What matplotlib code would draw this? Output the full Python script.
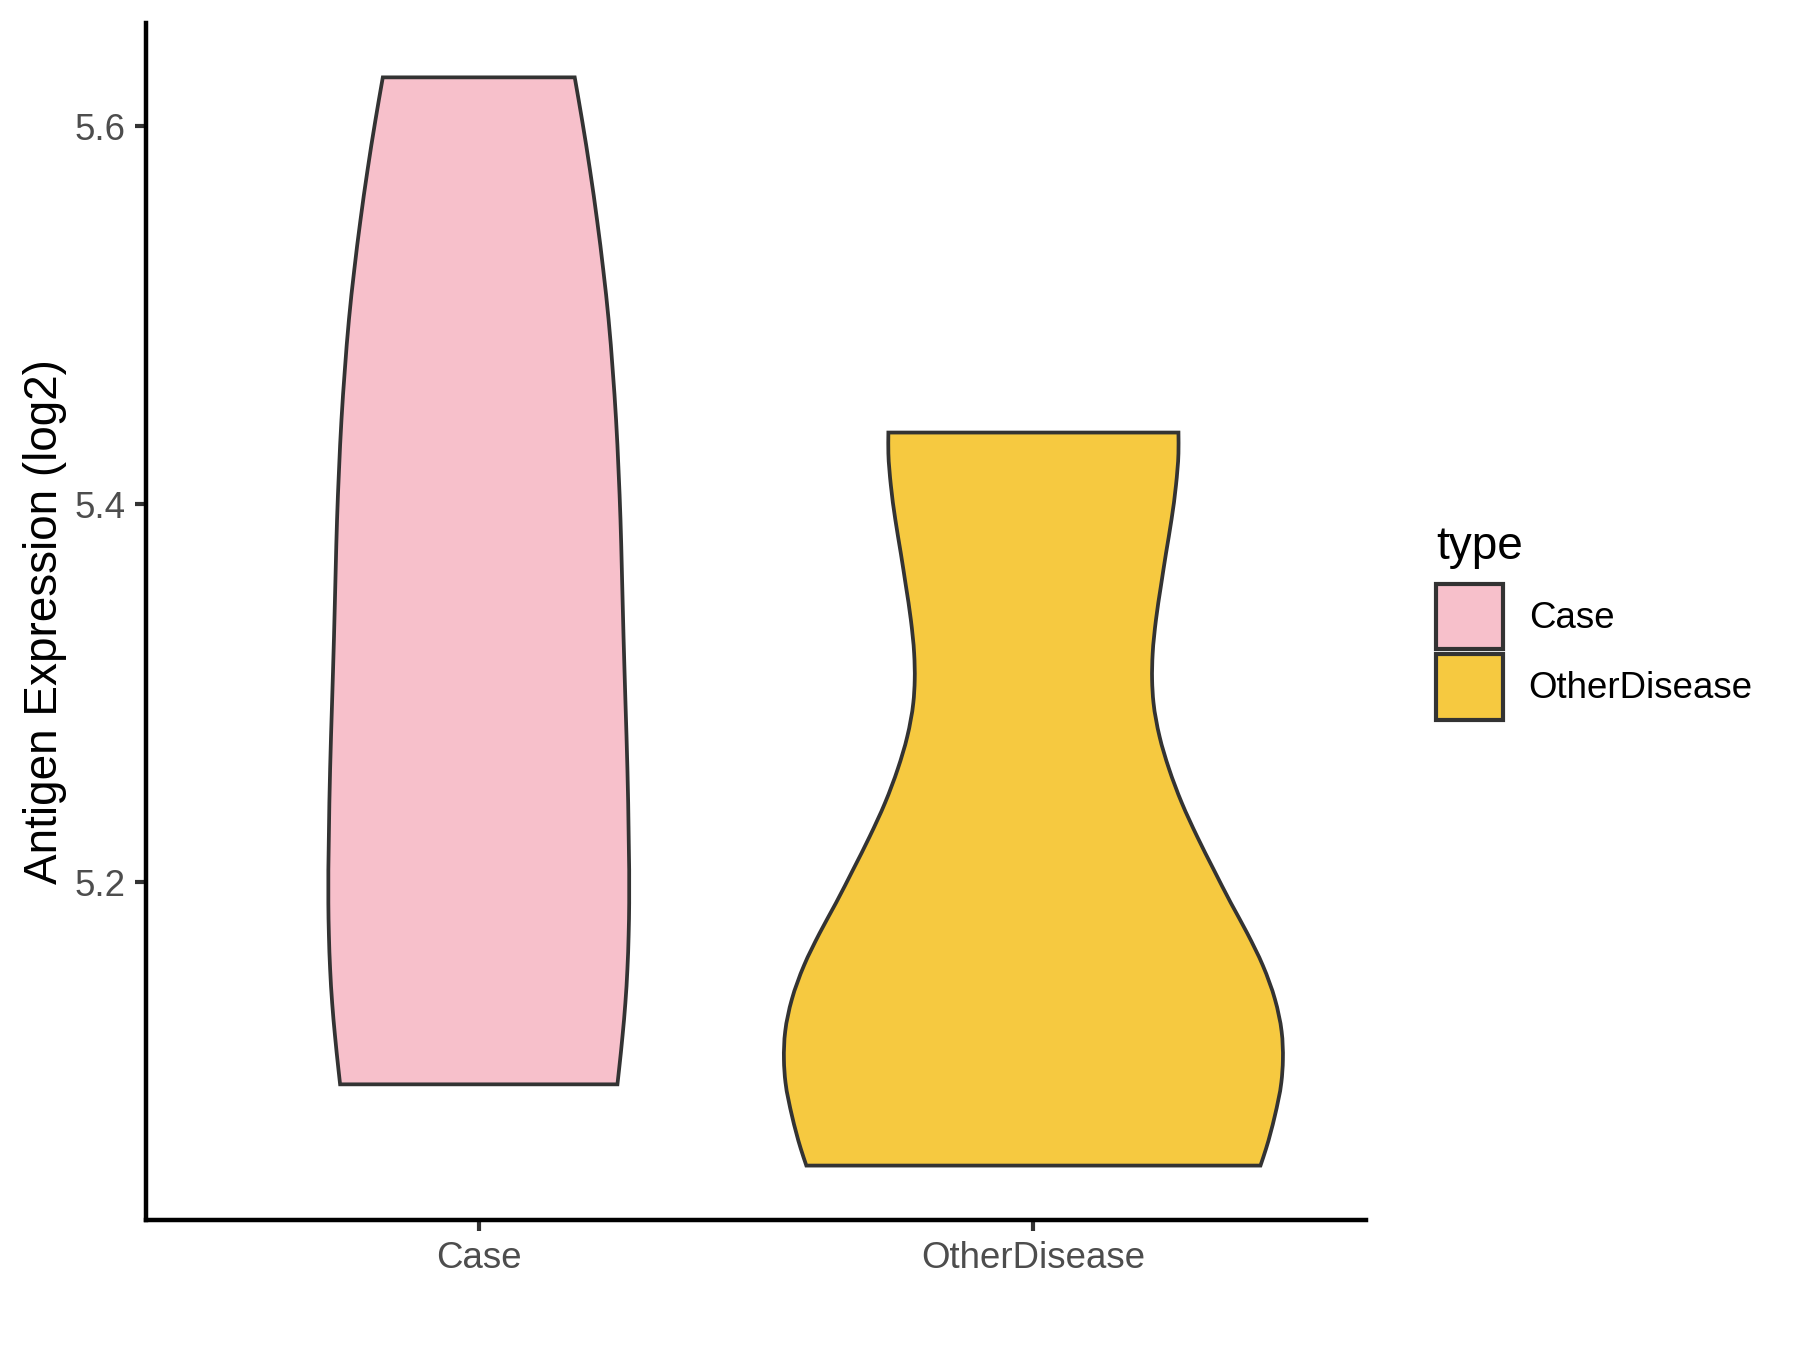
import numpy as np
import matplotlib
matplotlib.use("Agg")
import matplotlib.pyplot as plt
from matplotlib.path import Path
from matplotlib.patches import PathPatch, Patch

plt.rcParams['font.family'] = ['Liberation Sans', 'DejaVu Sans']

# ---- data (violin half-width profiles, x units) ----
categories = ["Case", "OtherDisease"]
colors = ["#F7C0CB", "#F6C940"]

case_y = [5.626, 5.603, 5.577, 5.550, 5.524, 5.498, 5.471, 5.445, 5.418, 5.392,
          5.365, 5.330, 5.295, 5.260, 5.224, 5.189, 5.172, 5.154, 5.136, 5.119,
          5.101, 5.093]
case_hw = [0.173, 0.1865, 0.2005, 0.2135, 0.2245, 0.234, 0.2415, 0.2475, 0.252, 0.2555,
           0.258, 0.261, 0.2645, 0.268, 0.2703, 0.2712, 0.2702, 0.2680, 0.2643, 0.2593,
           0.2530, 0.2500]

other_y = [5.438, 5.427, 5.410, 5.392, 5.374, 5.357, 5.339, 5.321, 5.307, 5.295,
           5.277, 5.260, 5.242, 5.224, 5.207, 5.189, 5.173, 5.156, 5.138, 5.121,
           5.106, 5.094, 5.076, 5.059, 5.050]
other_hw = [0.2615, 0.2615, 0.257, 0.249, 0.239, 0.230, 0.221, 0.215, 0.214, 0.2165,
            0.2275, 0.2445, 0.2675, 0.2955, 0.3245, 0.356, 0.3855, 0.4135, 0.4355, 0.4475,
            0.4498, 0.4470, 0.4350, 0.4195, 0.4094]

profiles = [(case_y, case_hw), (other_y, other_hw)]
yticks = [5.2, 5.4, 5.6]
ytick_labels = ["5.2", "5.4", "5.6"]


def slopes(ys, hws):
    ys = np.asarray(ys, float)
    hws = np.asarray(hws, float)
    n = len(ys)
    d = np.zeros(n)
    for i in range(n):
        if i == 0:
            d[i] = (hws[1] - hws[0]) / (ys[1] - ys[0])
        elif i == n - 1:
            d[i] = (hws[-1] - hws[-2]) / (ys[-1] - ys[-2])
        else:
            h0 = ys[i] - ys[i - 1]
            h1 = ys[i + 1] - ys[i]
            s0 = (hws[i] - hws[i - 1]) / h0
            s1 = (hws[i + 1] - hws[i]) / h1
            d[i] = (h1 * s0 + h0 * s1) / (h0 + h1)
    return d


def side_segments(center, sign, ys, hws, reverse=False):
    ys = np.asarray(ys, float)
    hws = np.asarray(hws, float)
    d = slopes(ys, hws)
    idx = list(range(len(ys)))
    if reverse:
        idx = idx[::-1]
    verts, codes = [], []
    for a, b in zip(idx[:-1], idx[1:]):
        dy = ys[b] - ys[a]
        c1 = (center + sign * (hws[a] + d[a] * dy / 3), ys[a] + dy / 3)
        c2 = (center + sign * (hws[b] - d[b] * dy / 3), ys[b] - dy / 3)
        p = (center + sign * hws[b], ys[b])
        verts += [c1, c2, p]
        codes += [Path.CURVE4] * 3
    return verts, codes


def violin_path(center, ys, hws):
    verts = [(center - hws[0], ys[0])]
    codes = [Path.MOVETO]
    v, c = side_segments(center, -1, ys, hws)
    verts += v
    codes += c
    verts.append((center + hws[-1], ys[-1]))
    codes.append(Path.LINETO)
    v, c = side_segments(center, 1, ys, hws, reverse=True)
    verts += v
    codes += c
    verts.append((center - hws[0], ys[0]))
    codes.append(Path.CLOSEPOLY)
    return Path(verts, codes)


fig = plt.figure(figsize=(6, 4.5), dpi=300)
ax = fig.add_axes([0.0811, 0.0963, 0.759 - 0.0811, 0.983 - 0.0963])

positions = np.arange(1, len(categories) + 1)
for pos, (ys, hws), col in zip(positions, profiles, colors):
    patch = PathPatch(violin_path(pos, ys, hws), facecolor=col,
                      edgecolor="#333333", linewidth=0.9, joinstyle="miter")
    ax.add_patch(patch)

all_y = np.concatenate([case_y, other_y])
rng = all_y.max() - all_y.min()
ax.set_ylim(all_y.min() - 0.05 * rng, all_y.max() + 0.05 * rng)
ax.set_xlim(0.4, len(categories) + 0.6)

ax.set_xticks(positions)
ax.set_xticklabels(categories)
ax.set_yticks(yticks)
ax.set_yticklabels(ytick_labels)

for s in ["top", "right"]:
    ax.spines[s].set_visible(False)
for s in ["left", "bottom"]:
    ax.spines[s].set_linewidth(1.07)
    ax.spines[s].set_color("black")

ax.tick_params(axis="both", length=2.75, width=1.0, color="#333333",
               labelsize=8.8, labelcolor="#4D4D4D", pad=2.2)
ax.set_ylabel("Antigen Expression (log2)", fontsize=11, color="black", labelpad=1.7)

handles = [Patch(facecolor=c, edgecolor="#333333", linewidth=1.0) for c in colors]
leg = fig.legend(handles, categories, title="type", loc="upper left",
                 bbox_to_anchor=(0.7977, 0.611), frameon=False,
                 fontsize=8.8, title_fontsize=11, handlelength=1.83,
                 handleheight=2.36, handletextpad=0.7, labelspacing=0.15,
                 borderpad=0, borderaxespad=0, alignment="left")
leg._legend_box.sep = 3.5

fig.savefig("out.png", dpi=300, facecolor="white")
